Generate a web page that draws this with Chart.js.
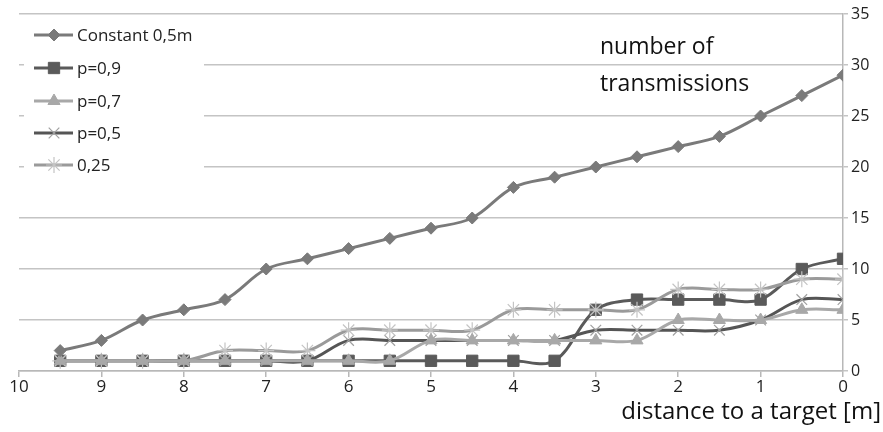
<!DOCTYPE html>
<html>
<head>
<meta charset="utf-8">
<script src="https://cdn.jsdelivr.net/npm/chart.js@4.4.1/dist/chart.umd.min.js"></script>
<style>
  html, body { margin: 0; padding: 0; background: #fff; }
  #wrap { width: 883px; height: 432px; position: relative; }
</style>
</head>
<body>
<div id="wrap"><canvas id="chart" width="883" height="432"></canvas></div>
<script>
// distance to target (m), read left to right
const distances = [9.5, 9, 8.5, 8, 7.5, 7, 6.5, 6, 5.5, 5, 4.5, 4, 3.5, 3, 2.5, 2, 1.5, 1, 0.5, 0];

const constant05 = [2, 3, 5, 6, 7, 10, 11, 12, 13, 14, 15, 18, 19, 20, 21, 22, 23, 25, 27, 29];
const p09 = [1, 1, 1, 1, 1, 1, 1, 1, 1, 1, 1, 1, 1, 6, 7, 7, 7, 7, 10, 11];
const p07 = [1, 1, 1, 1, 1, 1, 1, 1, 1, 3, 3, 3, 3, 3, 3, 5, 5, 5, 6, 6];
const p05 = [1, 1, 1, 1, 1, 1, 1, 3, 3, 3, 3, 3, 3, 4, 4, 4, 4, 5, 7, 7];
const p025 = [1, 1, 1, 1, 2, 2, 2, 4, 4, 4, 4, 6, 6, 6, 6, 8, 8, 8, 9, 9];

const seriesNames = ['Constant 0,5m', 'p=0,9', 'p=0,7', 'p=0,5', '0,25'];
const xTicks = [10, 9, 8, 7, 6, 5, 4, 3, 2, 1, 0];
const yTicks = [0, 5, 10, 15, 20, 25, 30, 35];

const FONT = '"Open Sans", "Noto Sans", sans-serif';

function pts(values) {
  return values.map((v, i) => ({ x: distances[i], y: v }));
}

const styles = [
  { line: '#7a7a7a', point: '#7a7a7a', shape: 'rectRot', r: 6, bw: 1 },
  { line: '#5a5a5a', point: '#5a5a5a', shape: 'rect', r: 8, bw: 1 },
  { line: '#a8a8a8', point: '#a8a8a8', shape: 'triangle', r: 7, bw: 1 },
  { line: '#555555', point: '#a0a0a0', shape: 'crossRot', r: 7.5, bw: 1.2 },
  { line: '#9a9a9a', point: '#c4c4c4', shape: 'star', r: 8, bw: 1.2 }
];
const allValues = [constant05, p09, p07, p05, p025];
// lower order is drawn on top
const drawOrder = [0, 4, 1, 3, 2];

const datasets = allValues.map((vals, i) => ({
  label: seriesNames[i],
  data: pts(vals),
  borderColor: styles[i].line,
  backgroundColor: styles[i].point,
  pointBackgroundColor: styles[i].point,
  pointBorderColor: styles[i].point,
  pointStyle: styles[i].shape,
  pointRadius: styles[i].r,
  pointBorderWidth: styles[i].bw,
  borderWidth: 3,
  tension: 0.35,
  order: drawOrder[i]
}));

const legendAndText = {
  id: 'legendAndText',
  afterDraw(chart) {
    const ctx = chart.ctx;
    ctx.save();
    // white box that covers the grid behind the legend
    ctx.fillStyle = '#fff';
    ctx.fillRect(24, 22, 180, 160);
    const rowY = [35, 68, 101, 133, 165];
    seriesNames.forEach((name, i) => {
      const y = rowY[i];
      const s = styles[i];
      ctx.strokeStyle = s.line;
      ctx.lineWidth = 3;
      ctx.beginPath();
      ctx.moveTo(34, y);
      ctx.lineTo(73, y);
      ctx.stroke();
      ctx.fillStyle = s.point;
      ctx.strokeStyle = s.point;
      ctx.lineWidth = s.bw;
      Chart.helpers.drawPoint(ctx, { pointStyle: s.shape, radius: s.r, rotation: 0, borderWidth: s.bw }, 54, y);
      ctx.fillStyle = '#222';
      ctx.font = '17px ' + FONT;
      ctx.textBaseline = 'middle';
      ctx.textAlign = 'left';
      ctx.fillText(name, 77, y + 1);
    });
    ctx.fillStyle = '#111';
    ctx.font = '23px ' + FONT;
    ctx.textBaseline = 'middle';
    ctx.fillText('number of', 600, 47);
    ctx.fillText('transmissions', 600, 84);
    ctx.font = '24px ' + FONT;
    ctx.textAlign = 'right';
    ctx.fillText('distance to a target [m]', 881, 412);
    ctx.restore();
  }
};

new Chart(document.getElementById('chart'), {
  type: 'line',
  data: { datasets },
  options: {
    responsive: false,
    animation: false,
    layout: { padding: { left: 19, top: 14, right: 0, bottom: 0 } },
    plugins: { legend: { display: false }, tooltip: { enabled: false } },
    scales: {
      x: {
        type: 'linear',
        reverse: true,
        min: 0,
        max: 10,
        afterFit(s) { s.height = 61; },
        afterBuildTicks(s) { s.ticks = xTicks.map(v => ({ value: v })); },
        grid: { display: true, drawOnChartArea: false, drawTicks: true, tickLength: 6, color: '#b8b8b8', lineWidth: 1.5 },
        border: { display: true, color: '#b8b8b8', width: 1.5 },
        ticks: { color: '#222', font: { family: FONT, size: 17 }, padding: 0, maxRotation: 0 }
      },
      y: {
        position: 'right',
        min: 0,
        max: 35,
        afterFit(s) { s.width = 40; },
        afterBuildTicks(s) { s.ticks = yTicks.map(v => ({ value: v })); },
        grid: { color: '#c4c4c4', lineWidth: 1.5, drawTicks: true, tickLength: 5 },
        border: { display: true, color: '#b8b8b8', width: 1.5 },
        ticks: { color: '#222', font: { family: FONT, size: 16 }, padding: 3 }
      }
    }
  },
  plugins: [legendAndText]
});
</script>
</body>
</html>
